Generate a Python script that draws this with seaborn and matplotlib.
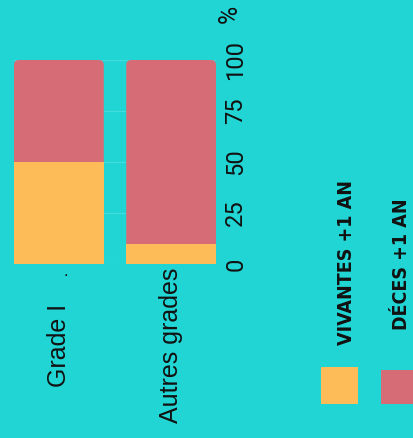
import matplotlib
matplotlib.use("Agg")
import matplotlib.pyplot as plt
import seaborn as sns
import pandas as pd
from matplotlib.patches import FancyBboxPatch, Rectangle

# data
categories = ["Grade I", "Autres grades"]
vivantes = [50, 10]
deces = [50, 90]
series = ["VIVANTES +1 AN", "DÉCES +1 AN"]
yticks = [0, 25, 50, 75, 100]

BG = "#22d5d5"
YELLOW = "#febc59"
RED = "#d66c75"

sns.set_theme(style="white")
plt.rcParams["font.family"] = ["Liberation Sans", "DejaVu Sans"]

df = pd.DataFrame({"grade": categories, "vivantes": vivantes, "deces": deces})
df["total"] = df["vivantes"] + df["deces"]

fig = plt.figure(figsize=(4.14, 4.38), dpi=100, facecolor=BG)
ax = fig.add_axes([14 / 414, 1 - 264 / 438, 202 / 414, 204 / 438])
ax.set_facecolor(BG)

sns.barplot(data=df, x="grade", y="total", color=RED, width=0.8,
            saturation=1, linewidth=0, ax=ax, zorder=2)
# round the top corners of the stacked bars
for p in list(ax.patches):
    x0, y0 = p.get_x(), p.get_y()
    w, h = p.get_width(), p.get_height()
    fb = FancyBboxPatch((x0, y0), w, h,
                        boxstyle="round,pad=0,rounding_size=0.045",
                        mutation_aspect=54, facecolor=RED, edgecolor="none",
                        zorder=2)
    p.remove()
    ax.add_patch(fb)
sns.barplot(data=df, x="grade", y="vivantes", color=YELLOW, width=0.8,
            saturation=1, linewidth=0, ax=ax, zorder=3)

ax.set_xlim(-0.4, 1.4)
ax.set_ylim(0, 100)
ax.set_yticks(yticks)
ax.yaxis.tick_right()
ax.tick_params(axis="y", length=0, pad=6, labelsize=17, labelrotation=90,
               labelcolor="#111111")
for lab in ax.get_yticklabels():
    lab.set_va("center")
    lab.set_family(["Roboto", "DejaVu Sans"])
ax.grid(axis="y", color="#45dcdc", linewidth=0.8, zorder=0)
ax.set_axisbelow(True)
for s in ax.spines.values():
    s.set_visible(False)
ax.set_xlabel("")
ax.set_ylabel("")
ax.set_xticks([])

# category labels (rotated)
for i, c in enumerate(categories):
    ax.text(i, -40, c, rotation=90, ha="center", va="center", fontsize=18,
            color="#111111", clip_on=False)
ax.text(0.06, -3.5, ".", ha="center", va="center", fontsize=12,
        color="#111111", clip_on=False)

fig.text(230 / 414, 1 - 14 / 438, "%", rotation=90, ha="center", va="center",
         fontsize=18, family=["Roboto", "DejaVu Sans"], color="#111111")

# legend
leg_colors = [YELLOW, RED]
leg_x = [321, 381]
leg_top = [367, 370]
leg_text_x = [347, 402]
leg_text_bottom = [345, 330]
for i, name in enumerate(series):
    fig.patches.append(Rectangle((leg_x[i] / 414, 1 - 404 / 438),
                                 (37 if i == 0 else 40) / 414,
                                 (404 - leg_top[i]) / 438,
                                 transform=fig.transFigure,
                                 facecolor=leg_colors[i], edgecolor="none"))
    fig.text(leg_text_x[i] / 414, 1 - leg_text_bottom[i] / 438,
             name, rotation=90, ha="center", va="bottom", fontsize=14,
             family="DejaVu Sans", fontstretch="condensed",
             fontweight="bold", color="#111111")

plt.savefig("out.png", dpi=100, facecolor=BG)
plt.close()
